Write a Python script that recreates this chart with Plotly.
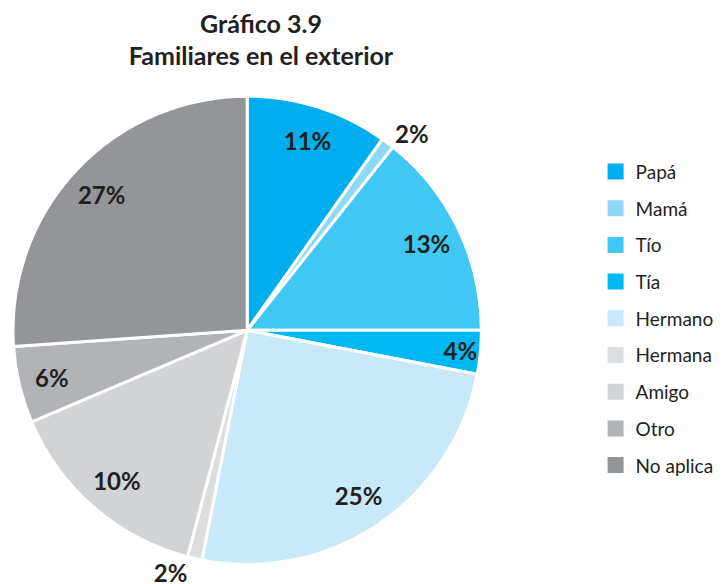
import plotly.graph_objects as go

labels = ["Papá", "Mamá", "Tío", "Tía", "Hermano", "Hermana", "Amigo", "Otro", "No aplica"]
values = [9.8, 0.9, 14.3, 3.0, 25.1, 1.0, 14.5, 5.3, 26.1]
pct_text = ["11%", "2%", "13%", "4%", "25%", "2%", "10%", "6%", "27%"]
colors = ["#00AEEF", "#8ED8F8", "#40C7F4", "#00B9F2", "#C7E9F9",
          "#DCDDDE", "#D1D3D4", "#B1B3B6", "#939598"]
outside = [False, True, False, False, False, True, False, False, False]

FONT = "Lato"
TXT = "#231F20"
domain = dict(x=[4 / 727, 473 / 727], y=[(584 - 560) / 584, (584 - 88) / 584])

fig = go.Figure()
# colored pie; carries the outside "2%" labels
fig.add_trace(go.Pie(
    labels=labels, values=values, text=pct_text,
    textinfo="text", textposition=["outside" if o else "none" for o in outside],
    sort=False, direction="clockwise", rotation=0,
    marker=dict(colors=colors, line=dict(color="white", width=3)),
    textfont=dict(family=FONT, size=24, color=TXT, weight="bold"),
    showlegend=False, domain=domain, hoverinfo="label+text",
))
# transparent ring overlay that carries the inside percentage labels near the rim
fig.add_trace(go.Pie(
    labels=labels, values=values, text=pct_text, hole=0.7,
    textinfo="text", textposition=["outside" if o else "inside" for o in outside],
    insidetextorientation="horizontal",
    sort=False, direction="clockwise", rotation=0,
    marker=dict(colors=["rgba(0,0,0,0)"] * len(labels), line=dict(width=0)),
    textfont=dict(family=FONT, size=24, weight="bold",
                  color=["rgba(0,0,0,0)" if o else TXT for o in outside]),
    showlegend=False, domain=domain, hoverinfo="skip",
))

for lab, col in zip(labels, colors):
    fig.add_trace(go.Scatter(
        x=[None], y=[None], mode="markers", name=lab,
        marker=dict(symbol="square", size=16, color=col),
        legendgroup=lab, showlegend=True,
    ))

fig.update_layout(
    width=727, height=584,
    margin=dict(l=0, r=0, t=0, b=0),
    paper_bgcolor="white", plot_bgcolor="white",
    uniformtext=dict(minsize=24, mode="show"),
    title=dict(text="<b>Gráfico 3.9<br>Familiares en el exterior</b>",
               x=253 / 727, xanchor="center", y=0.958, yanchor="top",
               font=dict(family=FONT, size=25, color=TXT)),
    xaxis=dict(visible=False), yaxis=dict(visible=False),
    legend=dict(x=0.808, xanchor="left", y=0.751, yanchor="top",
                font=dict(family=FONT, size=19, color=TXT),
                tracegroupgap=9, itemclick=False),
)

fig.write_html("out.html")
